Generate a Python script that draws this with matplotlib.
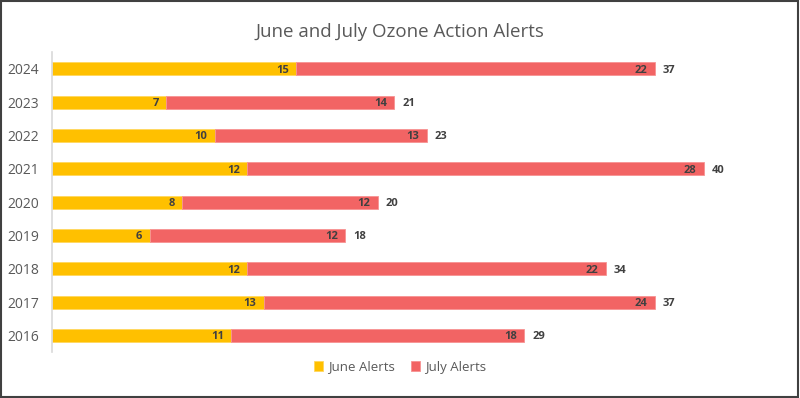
import matplotlib
matplotlib.use("Agg")
import matplotlib.pyplot as plt
from matplotlib.patches import Rectangle

years = ["2016", "2017", "2018", "2019", "2020", "2021", "2022", "2023", "2024"]
june = [11, 13, 12, 6, 8, 12, 10, 7, 15]
july = [18, 24, 22, 12, 12, 28, 13, 14, 22]
totals = [j + k for j, k in zip(june, july)]

plt.rcParams['font.family'] = ['Open Sans', 'DejaVu Sans']

fig = plt.figure(figsize=(8, 3.98), dpi=100)
ax = fig.add_axes([52 / 800, 46 / 398, 733 / 800, 300 / 398])

gold = '#FFC000'
red = '#F26464'
txt = '#404040'

ax.barh(years, june, height=0.39, color=gold, edgecolor='#FFD75E', linewidth=0.6, label='June Alerts')
ax.barh(years, july, left=june, height=0.39, color=red, edgecolor='#F79393', linewidth=0.6, label='July Alerts')

for i in range(len(years)):
    ax.text(june[i] - 0.45, i, str(june[i]), ha='right', va='center_baseline', fontsize=8, fontweight='bold', color=txt)
    ax.text(totals[i] - 0.45, i, str(july[i]), ha='right', va='center_baseline', fontsize=8, fontweight='bold', color=txt)
    ax.text(totals[i] + 0.5, i, str(totals[i]), ha='left', va='center_baseline', fontsize=8, fontweight='bold', color=txt)

ax.set_xlim(0, 45)
ax.set_ylim(-0.5, 8.5)
ax.set_xticks([])
for s in ['top', 'right', 'bottom']:
    ax.spines[s].set_visible(False)
ax.spines['left'].set_color('#D9D9D9')
ax.spines['left'].set_linewidth(1.2)
ax.tick_params(axis='y', length=0, pad=9.5, labelsize=10, labelcolor='#595959')
for lbl in ax.get_yticklabels():
    lbl.set_va('center_baseline')

fig.text(0.5, 1 - 32 / 398, 'June and July Ozone Action Alerts', ha='center', va='center', fontsize=13.5, color='#595959')

leg = fig.legend(loc='center', bbox_to_anchor=(0.5, 1 - 367 / 398), ncol=2, frameon=False,
                 fontsize=9.5, handlelength=0.7, handleheight=0.7, columnspacing=1.2, handletextpad=0.4)
for t in leg.get_texts():
    t.set_color('#595959')

fig.patches.append(Rectangle((0.001, 0.002), 0.997, 0.995, transform=fig.transFigure,
                             fill=False, edgecolor='#404040', linewidth=1.5))

fig.savefig('out.png', dpi=100)
